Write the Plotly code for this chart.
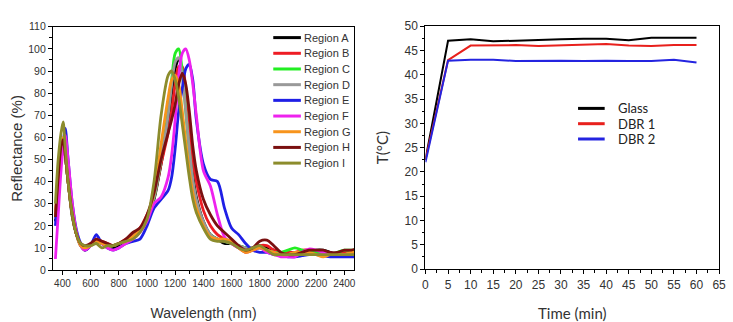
import plotly.graph_objects as go

# ---------------- Left panel: reflectance spectra ----------------
wavelength = [350, 370, 390, 405, 420, 440, 470, 500, 530, 560, 600, 640, 680, 720, 760, 800, 850, 900, 950, 1000,
              1050, 1100, 1150, 1175, 1200, 1225, 1250, 1275, 1300, 1325, 1350, 1400, 1450, 1500, 1550, 1600,
              1650, 1700, 1750, 1800, 1850, 1900, 1950, 2000, 2050, 2100, 2150, 2200, 2250, 2300, 2350, 2400, 2450, 2500]

region_a = [22, 40, 55, 58, 52, 40, 24, 16, 11, 9, 11, 13, 12, 11, 10, 11, 13, 15, 18, 24,
            32, 48, 66, 80, 91, 95, 90, 76, 58, 43, 33, 22, 16, 14, 12, 12,
            11, 10, 10, 11, 10, 9, 8, 8, 8, 8, 8, 9, 9, 8, 7, 8, 8, 8]
region_b = [24, 42, 56, 58, 52, 40, 25, 16, 11, 10, 12, 14, 13, 12, 11, 12, 14, 16, 19, 25,
            33, 48, 62, 72, 84, 92, 92, 82, 66, 50, 40, 27, 20, 16, 14, 12,
            10, 8, 9, 11, 11, 9, 8, 8, 8, 9, 9, 8, 8, 7, 7, 8, 8, 8]
region_c = [24, 42, 56, 59, 52, 40, 25, 16, 11, 10, 11, 13, 12, 11, 11, 12, 13, 15, 18, 24,
            33, 50, 72, 86, 98, 100, 90, 72, 54, 40, 31, 21, 16, 14, 13, 12,
            11, 10, 9, 10, 9, 8, 8, 9, 10, 9, 8, 8, 7, 7, 8, 9, 9, 9]
region_d = [23, 41, 55, 58, 52, 40, 25, 16, 11, 10, 11, 13, 12, 11, 11, 12, 13, 15, 18, 24,
            33, 50, 70, 84, 94, 96, 88, 72, 55, 41, 32, 22, 16, 14, 13, 12,
            11, 10, 10, 10, 9, 8, 7, 7, 8, 8, 7, 7, 7, 7, 7, 7, 8, 8]
region_e = [20, 38, 55, 58, 64, 50, 30, 18, 12, 9, 11, 16, 12, 10, 9, 10, 12, 13, 14, 20,
            28, 32, 36, 42, 55, 72, 82, 91, 93, 86, 68, 48, 41, 40, 28, 19,
            16, 12, 9, 8, 8, 7, 7, 6, 6, 6.5, 7, 7, 6.5, 6, 6, 6, 6, 6]
region_f = [5, 25, 45, 55, 61, 50, 30, 17, 11, 9, 11, 14, 12, 10, 9, 10, 12, 14, 17, 22,
            30, 33, 42, 52, 68, 88, 98, 100, 95, 84, 70, 45, 38, 25, 15, 12,
            10, 9, 9, 10, 8, 7, 6, 6, 6, 8, 9.5, 9, 8, 7, 7, 7, 7, 7]
region_g = [25, 43, 57, 60, 53, 40, 25, 16, 11, 10, 11, 13, 12, 11, 11, 12, 13, 15, 18, 24,
            35, 57, 78, 86, 88, 84, 72, 58, 45, 35, 28, 20, 15, 14, 14, 13,
            10, 8, 9, 10, 9, 8, 7, 7, 8, 8, 8, 7, 6, 7, 7, 7, 8, 8]
region_h = [24, 42, 56, 59, 52, 40, 25, 16, 12, 11, 12, 14, 13, 12, 11, 12, 14, 17, 19, 25,
            35, 50, 62, 68, 75, 84, 89, 84, 72, 56, 45, 32, 25, 20, 17, 14,
            11, 9, 10, 13, 13.5, 11, 8, 7, 7, 8, 9, 9, 9, 8, 8, 9, 9, 10]
region_i = [30, 50, 62, 67, 55, 40, 25, 16, 12, 11, 11, 12, 10, 11, 11, 12, 13, 14, 17, 23,
            40, 70, 88, 90, 86, 78, 66, 54, 42, 32, 26, 19, 14, 13, 13, 12,
            10, 9, 10, 11, 9, 7, 7, 7, 7, 7, 7, 7, 7, 7, 7, 7, 7, 7]

region_names = ["Region A", "Region B", "Region C", "Region D", "Region E",
                "Region F", "Region G", "Region H", "Region I"]
region_colors = ["#000000", "#ee1c24", "#22ee22", "#999999", "#1f1fe6",
                 "#ee22ee", "#f7941d", "#7a1010", "#8c8c2c"]

# ---------------- Right panel: temperature vs time ----------------
time_min = [0, 5, 10, 15, 20, 25, 30, 35, 40, 45, 50, 55, 60]
glass = [22.5, 47.0, 47.3, 46.9, 47.0, 47.2, 47.3, 47.4, 47.4, 47.1, 47.6, 47.6, 47.6]
dbr1 = [22.5, 43.0, 46.0, 46.1, 46.1, 45.9, 46.0, 46.1, 46.3, 46.0, 45.9, 46.1, 46.1]
dbr2 = [22.0, 42.9, 43.1, 43.1, 42.8, 42.9, 42.9, 42.8, 42.9, 42.8, 42.8, 43.1, 42.5]
temp_names = ["Glass", "DBR 1", "DBR 2"]
temp_colors = ["#000000", "#e8201c", "#2424e0"]

W, H = 733, 322
fig = go.Figure()

for name, vals, col in zip(region_names,
                           [region_a, region_b, region_c, region_d, region_e,
                            region_f, region_g, region_h, region_i],
                           region_colors):
    fig.add_trace(go.Scatter(x=wavelength, y=vals, name=name, mode="lines",
                             line=dict(color=col, width=2.8, shape="spline", smoothing=0.8),
                             xaxis="x", yaxis="y", showlegend=False))

for name, vals, col in zip(temp_names, [glass, dbr1, dbr2], temp_colors):
    fig.add_trace(go.Scatter(x=time_min, y=vals, name=name, mode="lines",
                             line=dict(color=col, width=2),
                             xaxis="x2", yaxis="y2", showlegend=False))

arial = "Liberation Sans, Arial, sans-serif"
calib = "Lato, Carlito, sans-serif"

# legend keys (line sample + label) for both panels
shapes = []
annotations = []
for i, (name, col) in enumerate(zip(region_names, region_colors)):
    yy = 1 - (32 + i * 16.4) / H
    shapes.append(dict(type="line", xref="paper", yref="paper",
                       x0=274 / W, x1=302 / W, y0=yy, y1=yy,
                       line=dict(color=col, width=3)))
    annotations.append(dict(text=name, xref="paper", yref="paper", x=303 / W, y=yy,
                            xanchor="left", yanchor="middle", showarrow=False,
                            font=dict(size=11, family=arial, color="#333333")))
for i, (name, col) in enumerate(zip(temp_names, temp_colors)):
    yy = 1 - (106 + i * 16) / H
    shapes.append(dict(type="line", xref="paper", yref="paper",
                       x0=583 / W, x1=610 / W, y0=yy, y1=yy,
                       line=dict(color=col, width=3)))
    annotations.append(dict(text=name, xref="paper", yref="paper", x=621 / W, y=yy,
                            xanchor="left", yanchor="middle", showarrow=False,
                            font=dict(size=13, family=calib, color="#222222")))

common = dict(showline=True, linecolor="black", linewidth=1.3, mirror=True,
              showgrid=False, zeroline=False, ticks="outside", ticklen=4,
              tickcolor="black", tickwidth=1)

fig.update_layout(
    width=W, height=H,
    margin=dict(l=0, r=0, t=0, b=0),
    paper_bgcolor="white", plot_bgcolor="white",
    font=dict(family=arial, color="#222222"),
    showlegend=False,
    shapes=shapes,
    annotations=annotations,
    xaxis=dict(domain=[50.7 / W, 356 / W], range=[333, 2470], anchor="y",
               tickmode="array", tickvals=list(range(400, 2401, 200)),
               minor=dict(ticks="outside", ticklen=2.5, tickcolor="black", dtick=100, tick0=0),
               tickfont=dict(size=10, family=arial, color="#333333"),
               title=dict(text="Wavelength (nm)", font=dict(size=14, family=arial, color="#333333"),
                          standoff=20),
               **common),
    yaxis=dict(domain=[1 - 275 / H, 1 - 20.7 / H], range=[0, 110], anchor="x",
               dtick=10, tick0=0,
               minor=dict(ticks="outside", ticklen=2.5, tickcolor="black", dtick=5),
               tickfont=dict(size=10.5, family=arial, color="#333333"),
               title=dict(text="Reflectance (%)", font=dict(size=15, family=arial, color="#333333"),
                          standoff=1),
               **common),
    xaxis2=dict(domain=[428.3 / W, 726 / W], range=[0, 65], anchor="y2",
                dtick=5, tick0=0,
                minor=dict(ticks="outside", ticklen=2.5, tickcolor="black", dtick=2.5),
                tickfont=dict(size=12, family=arial, color="#333333"),
                title=dict(text="Time (min)", font=dict(size=15, family=calib, color="#333333"),
                           standoff=18),
                **common),
    yaxis2=dict(domain=[1 - 274 / H, 1 - 20 / H], range=[0, 50], anchor="x2",
                dtick=5, tick0=0,
                minor=dict(ticks="outside", ticklen=2.5, tickcolor="black", dtick=2.5),
                tickfont=dict(size=12, family=arial, color="#333333"),
                title=dict(text="T(°C)", font=dict(size=15, family=calib, color="#333333"),
                           standoff=12),
                **common),
)

fig.write_html("out.html")
